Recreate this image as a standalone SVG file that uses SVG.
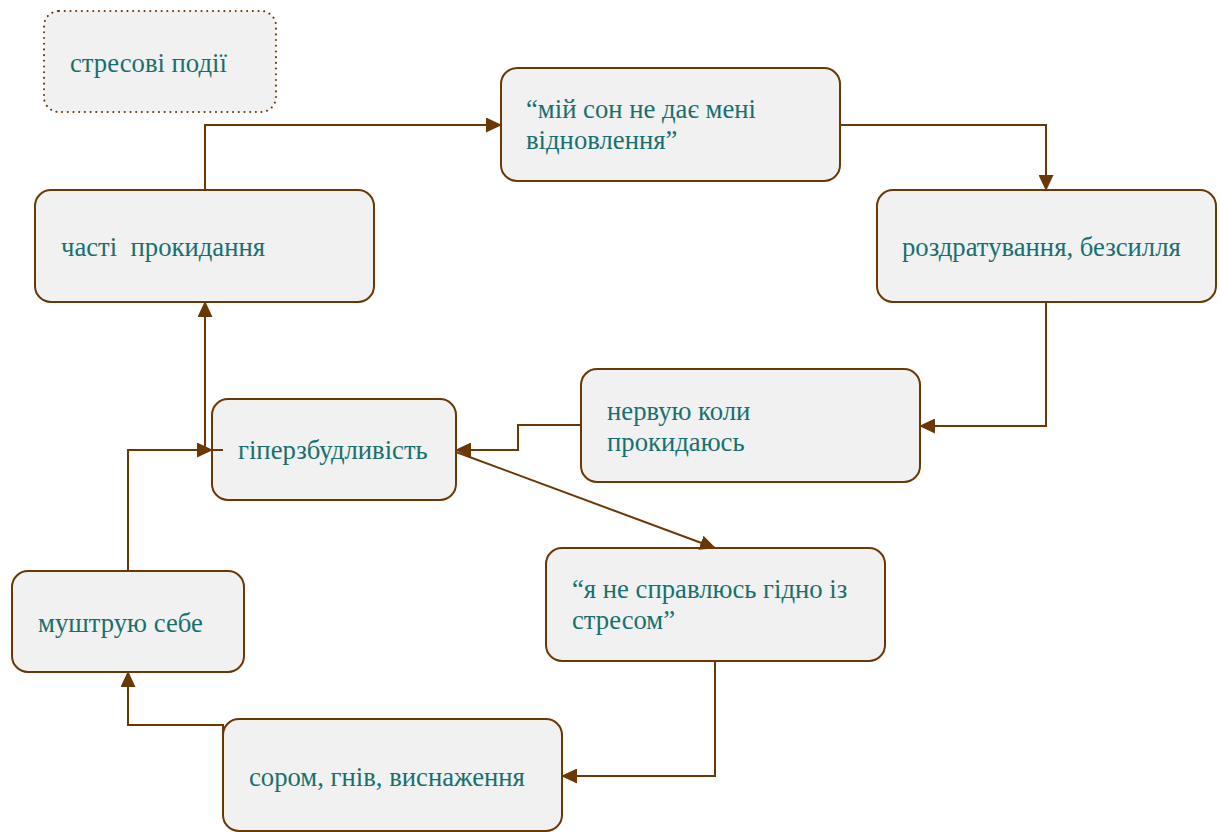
<svg xmlns="http://www.w3.org/2000/svg" width="1220" height="832" viewBox="0 0 1220 832">
<defs>
<marker id="ah" markerWidth="16" markerHeight="15" refX="15" refY="7.5" orient="auto" markerUnits="userSpaceOnUse">
<path d="M0,0 L16,7.5 L0,15 Z" fill="#6b3705"/>
</marker>
<style>
.box{fill:#f1f1f1;stroke:#6b3705;stroke-width:2}
.dot{fill:#f1f1f1;stroke:#6b3705;stroke-width:2;stroke-dasharray:0.1 5.6;stroke-linecap:round}
text{font-family:'Liberation Serif','Times New Roman',serif;font-size:26.7px;fill:#17706f}
.c{fill:none;stroke:#6b3705;stroke-width:2}
</style>
</defs>
<rect width="1220" height="832" fill="#ffffff"/>
<g id="n0"><rect class="dot" x="44" y="11" width="232" height="101" rx="15"/><text x="70" y="72">стресові події</text></g>
<g id="n1"><rect class="box" x="501" y="68" width="339" height="113" rx="16"/><text x="526" y="118">“мій сон не дає мені</text><text x="526" y="149">відновлення”</text></g>
<g id="n2"><rect class="box" x="877" y="190" width="339" height="112" rx="16"/><text x="902" y="256">роздратування, безсилля</text></g>
<g id="n3"><rect class="box" x="35" y="190" width="339" height="112" rx="16"/><text x="61" y="256" xml:space="preserve">часті  прокидання</text></g>
<g id="n4"><rect class="box" x="581" y="369" width="339" height="113" rx="16"/><text x="607" y="420">нервую коли</text><text x="607" y="451">прокидаюсь</text></g>
<g id="n5"><rect class="box" x="212" y="399" width="244" height="101" rx="16"/><text x="238" y="459">гіперзбудливість</text></g>
<g id="n6"><rect class="box" x="546" y="548" width="339" height="113" rx="16"/><text x="572" y="598">“я не справлюсь гідно із</text><text x="572" y="629">стресом”</text></g>
<g id="n7"><rect class="box" x="12" y="571" width="232" height="101" rx="16"/><text x="38" y="632">муштрую себе</text></g>
<g id="n8"><rect class="box" x="223" y="719" width="339" height="112" rx="16"/><text x="249" y="786">сором, гнів, виснаження</text></g>
<g id="connectors">
<path class="c" d="M205,190 V125 H501" marker-end="url(#ah)"/>
<path class="c" d="M840,125 H1046 V190" marker-end="url(#ah)"/>
<path class="c" d="M1046,302 V426 H920" marker-end="url(#ah)"/>
<path class="c" d="M581,425 H518 V450 H456" marker-end="url(#ah)"/>
<path class="c" d="M456,452 L715,548" marker-end="url(#ah)"/>
<path class="c" d="M715,661 V776 H562" marker-end="url(#ah)"/>
<path class="c" d="M223,775 V725 H128 V672" marker-end="url(#ah)"/>
<path class="c" d="M128,571 V450 H212" marker-end="url(#ah)"/>
<path class="c" d="M223,450 H205 V302" marker-end="url(#ah)"/>
</g>
</svg>
